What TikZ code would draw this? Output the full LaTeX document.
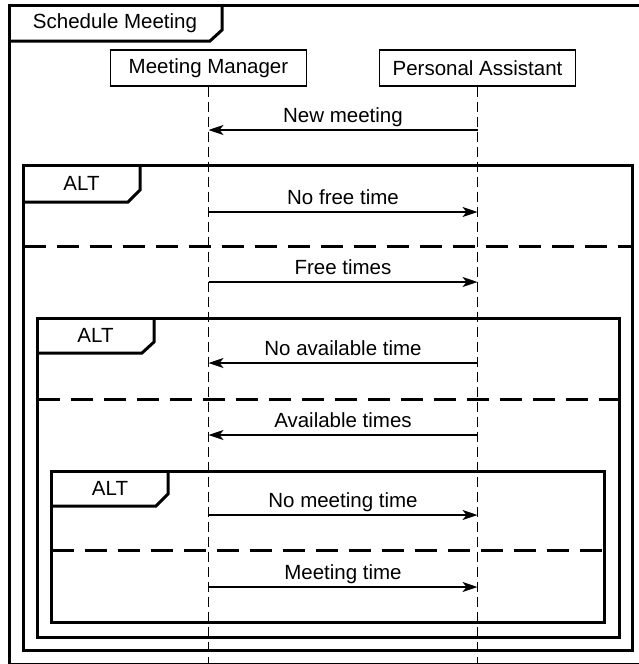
\documentclass[tikz,border=0pt]{standalone}
\usepackage{fontspec}
\setmainfont{Liberation Sans}
\usetikzlibrary{arrows.meta,positioning}

\tikzset{
    lifebox/.style={draw, line width=1.3pt, minimum height=36pt, minimum width=196pt, inner sep=0pt},
    lifeline/.style={line width=1.3pt, dash pattern=on 10pt off 5pt},
    msg/.style={line width=1.3pt, -{Stealth[length=15pt,width=10pt,inset=4pt]}},
    msglabel/.style={anchor=base, yshift=8pt, inner sep=0pt},
    frame/.style={line width=3pt},
    guard/.style={line width=3pt, dash pattern=on 22pt off 11pt},
}

\begin{document}
\begin{tikzpicture}[x=1pt, y=-1pt, font=\fontsize{20.5}{24}\selectfont]
        \clip (0,0) rectangle (639,664);

        % outer frame
        \draw[frame] (9.5,5.5) rectangle (660,664.5);
        \node (sd) at (115,23) {Schedule Meeting};
        \draw[frame] (222,5.5) -- (222,30) -- (210,41) -- (9.5,41);

        % lifelines
        \node[lifebox] (mm) at (208.5,68) {Meeting Manager};
        \node[lifebox] (pa) at (477.5,68) {Personal Assistant};
        \draw[lifeline] (mm.south) -- (mm |- 0,670);
        \draw[lifeline] (pa.south) -- (pa |- 0,670);

        % PA -> MM
        \draw[msg] (pa |- 0,130) -- node[msglabel] {New meeting} (mm |- 0,130);

        % alt 1
        \draw[frame] (23.5,165) rectangle (632,650);
        \node (alt1) at (81.5,183) {ALT};
        \draw[frame] (140,165) -- (140,190) -- (128,202) -- (23.5,202);
        \draw[guard] (23.5,246) -- (632,246);

        \draw[msg] (mm |- 0,212) -- node[msglabel] {No free time} (pa |- 0,212);
        \draw[msg] (mm |- 0,282) -- node[msglabel] {Free times} (pa |- 0,282);

        % alt 2
        \draw[frame] (37.5,318) rectangle (619,637);
        \node (alt2) at (95.5,335) {ALT};
        \draw[frame] (154,318) -- (154,342) -- (142,353) -- (37.5,353);
        \draw[guard] (37.5,399) -- (619,399);

        \draw[msg] (pa |- 0,363) -- node[msglabel] {No available time} (mm |- 0,363);
        \draw[msg] (pa |- 0,435) -- node[msglabel] {Available times} (mm |- 0,435);

        % alt 3
        \draw[frame] (51.5,471) rectangle (604,622);
        \node (alt3) at (110,488) {ALT};
        \draw[frame] (168,471) -- (168,494) -- (156,506) -- (51.5,506);
        \draw[guard] (51.5,550) -- (604,550);

        \draw[msg] (mm |- 0,515) -- node[msglabel] {No meeting time} (pa |- 0,515);
        \draw[msg] (mm |- 0,587) -- node[msglabel] {Meeting time} (pa |- 0,587);
    \end{tikzpicture}
\end{document}
